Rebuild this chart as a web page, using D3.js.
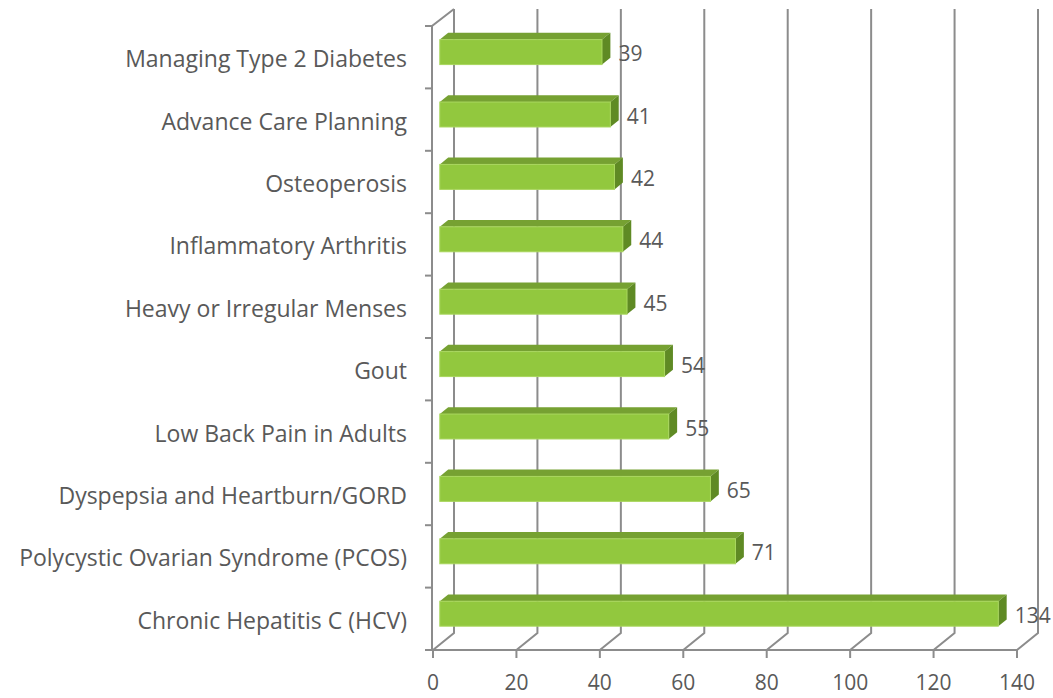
<!DOCTYPE html>
<html>
<head>
<meta charset="utf-8">
<script src="https://cdn.jsdelivr.net/npm/d3@7"></script>
<style>
  body { margin: 0; background: #fff; }
  svg { display: block; font-family: "Open Sans", sans-serif; }
</style>
</head>
<body>
<script>
// Chart data
const categories = [
  "Managing Type 2 Diabetes",
  "Advance Care Planning",
  "Osteoperosis",
  "Inflammatory Arthritis",
  "Heavy or Irregular Menses",
  "Gout",
  "Low Back Pain in Adults",
  "Dyspepsia and Heartburn/GORD",
  "Polycystic Ovarian Syndrome (PCOS)",
  "Chronic Hepatitis C (HCV)"
];
const values = [39, 41, 42, 44, 45, 54, 55, 65, 71, 134];
const xTicks = [0, 20, 40, 60, 80, 100, 120, 140];

const width = 1053;
const height = 698;

// depth offset of the 3D box (full depth)
const depthX = 21;
const depthY = -17;
const textColor = "#595959";
const gridColor = "#8c8c8c";

const svg = d3.select("body").append("svg")
  .attr("width", width)
  .attr("height", height);

const x = d3.scaleLinear().domain([0, 140]).range([433, 1017]);
const y = d3.scaleBand().domain(categories).range([26, 650]).paddingInner(0.6).paddingOuter(0.3);
const yFull = d3.scaleBand().domain(categories).range([26, 650]);

// project a point at depth z (0 = front, 1 = back)
const px = (vx, z) => vx + depthX * z;
const py = (vy, z) => vy + depthY * z;

const floorY = 650;
const topY = 26;

// Back wall gridlines + floor depth lines
const gGrid = svg.append("g")
  .attr("stroke", gridColor)
  .attr("stroke-width", 2)
  .attr("fill", "none");

xTicks.forEach((t) => {
  gGrid.append("path")
    .attr("d", d3.line()([
      [x(t), floorY],
      [px(x(t), 1), py(floorY, 1)],
      [px(x(t), 1), py(topY, 1)]
    ]));
});

// left wall front edge and top diagonal
gGrid.append("path")
  .attr("d", d3.line()([
    [px(x(0), 1), py(topY, 1)],
    [x(0) - 1, topY],
    [x(0) - 1, floorY],
    [x(140), floorY]
  ]));

// category ticks on the left
yFull.domain().forEach((c) => {
  gGrid.append("line")
    .attr("x1", x(0) - 8).attr("x2", x(0))
    .attr("y1", yFull(c)).attr("y2", yFull(c));
});
gGrid.append("line")
  .attr("x1", x(0) - 8).attr("x2", x(0))
  .attr("y1", floorY).attr("y2", floorY);

// value ticks below the floor
xTicks.forEach((t) => {
  gGrid.append("line")
    .attr("x1", x(t)).attr("x2", x(t))
    .attr("y1", floorY).attr("y2", floorY + 8);
});

// Bars (3D boxes)
const z0 = 0.3;
const z1 = 0.7;
const gBars = svg.append("g");

categories.forEach((c, i) => {
  const v = values[i];
  const x0 = px(x(0), z0) + 0.5;
  const x1 = px(x(v), z0);
  const yt = py(y(c), z0);
  const yb = py(y(c) + y.bandwidth(), z0);
  const dx = depthX * (z1 - z0);
  const dy = depthY * (z1 - z0);

  // top face
  gBars.append("path")
    .attr("d", d3.line()([[x0, yt], [x0 + dx, yt + dy], [x1 + dx, yt + dy], [x1, yt]]) + "Z")
    .attr("fill", "#76a132");
  // side face
  gBars.append("path")
    .attr("d", d3.line()([[x1, yt], [x1 + dx, yt + dy], [x1 + dx, yb + dy], [x1, yb]]) + "Z")
    .attr("fill", "#5f8a24");
  // front face
  gBars.append("rect")
    .attr("x", x0)
    .attr("y", yt)
    .attr("width", x1 - x0)
    .attr("height", yb - yt)
    .attr("fill", "#92c83e")
    .attr("stroke", "#a9d65e")
    .attr("stroke-width", 1);

  // value label
  gBars.append("text")
    .attr("x", x1 + dx + 8)
    .attr("y", (yt + yb) / 2 + 1)
    .attr("dominant-baseline", "central")
    .attr("font-size", 21)
    .attr("fill", textColor)
    .text(v);
});

// Category labels
svg.append("g")
  .selectAll("text")
  .data(categories)
  .join("text")
  .attr("x", 407)
  .attr("y", (d) => yFull(d) + yFull.bandwidth() / 2 + 1)
  .attr("text-anchor", "end")
  .attr("dominant-baseline", "central")
  .attr("font-size", 23)
  .attr("fill", textColor)
  .text((d) => d);

// X tick labels
svg.append("g")
  .selectAll("text")
  .data(xTicks)
  .join("text")
  .attr("x", (d) => x(d))
  .attr("y", 682)
  .attr("text-anchor", "middle")
  .attr("dominant-baseline", "central")
  .attr("font-size", 21)
  .attr("fill", textColor)
  .text((d) => d);
</script>
</body>
</html>
